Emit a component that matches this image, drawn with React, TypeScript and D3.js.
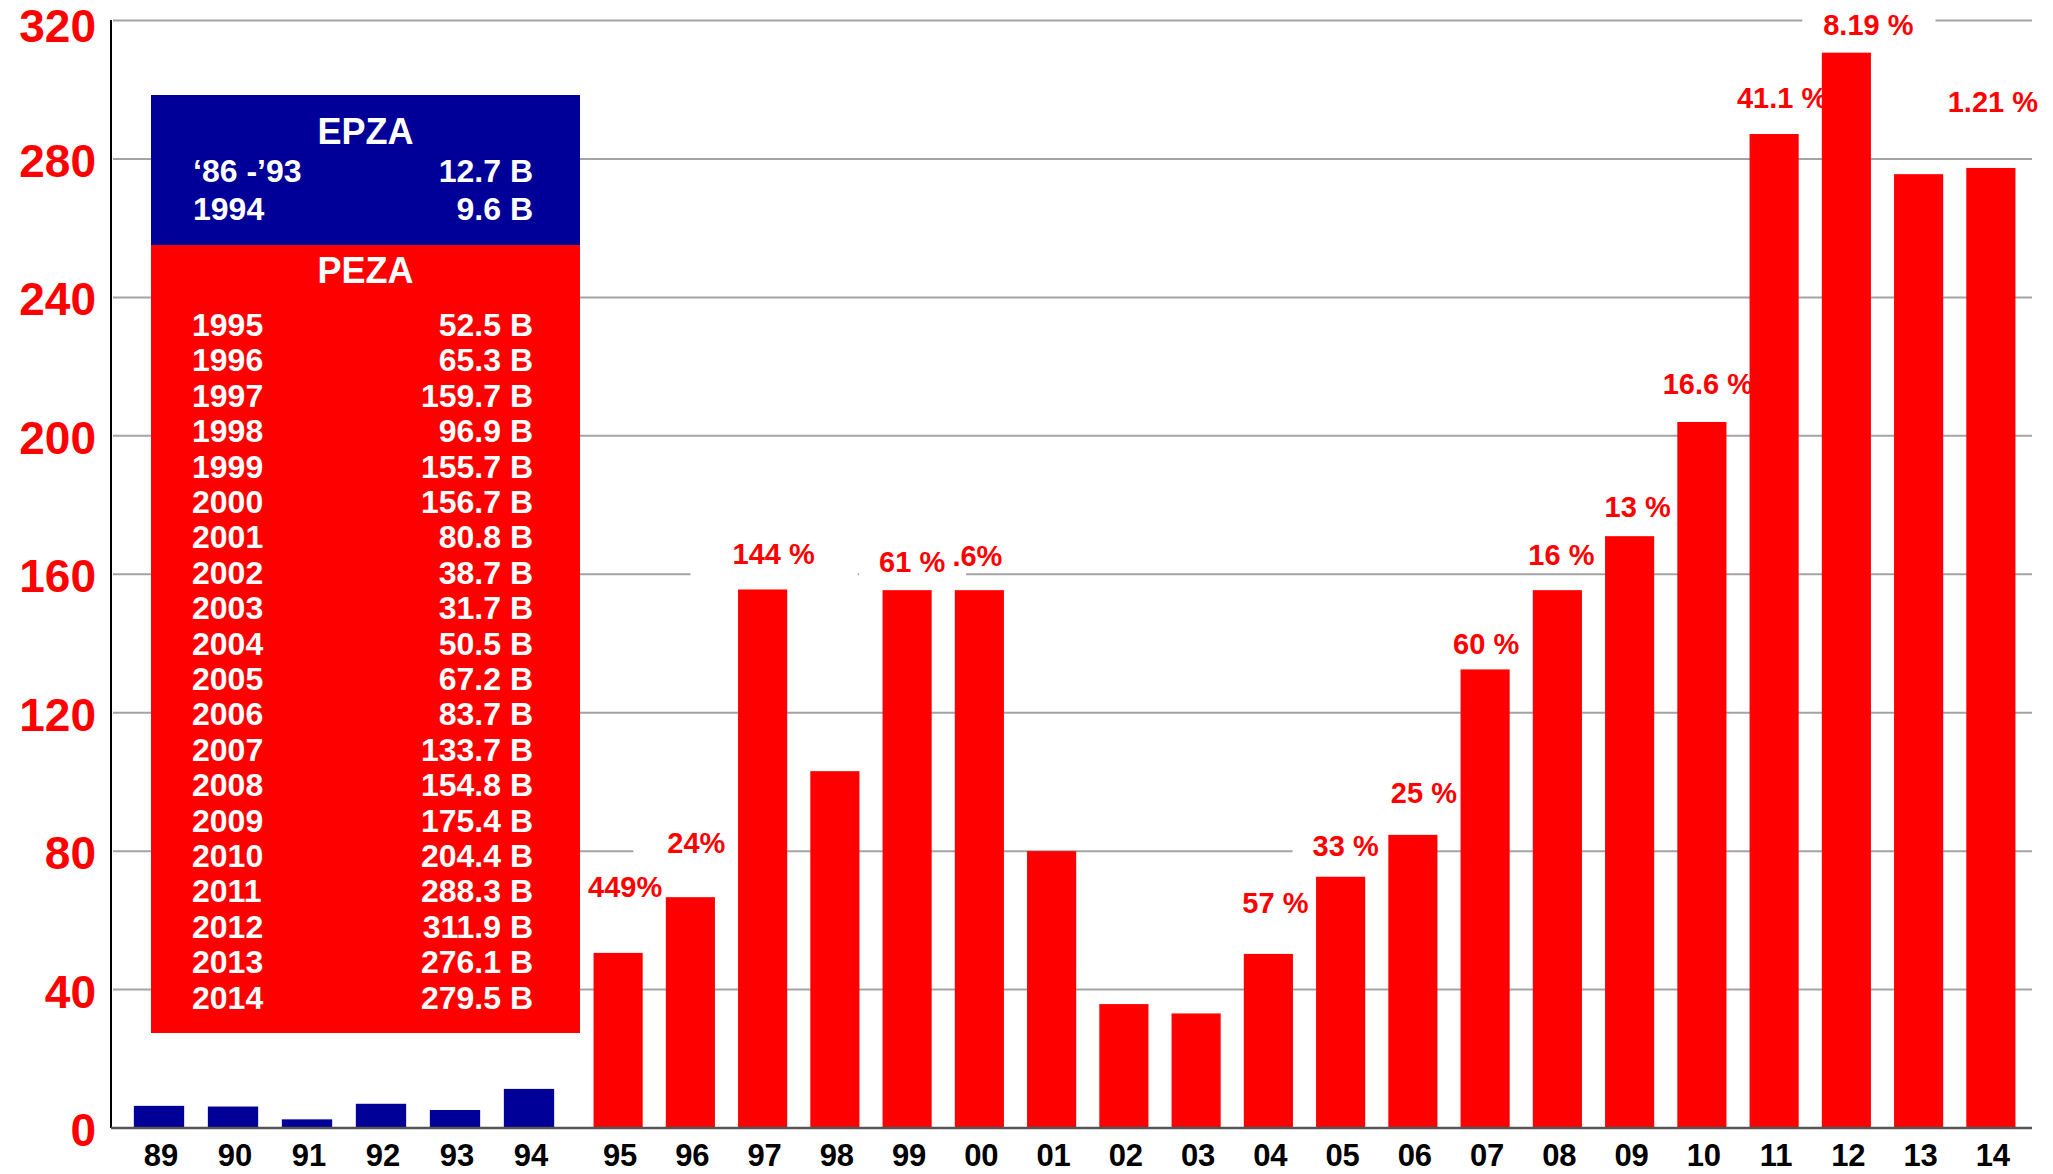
import * as d3 from "d3";

// EPZA / PEZA exports (billion pesos)
const epzaYears = ["89", "90", "91", "92", "93", "94"];
const epzaValues = [6.4, 6.2, 2.5, 7.0, 5.2, 11.3];
const pezaYears = ["95", "96", "97", "98", "99", "00", "01", "02", "03", "04", "05", "06", "07", "08", "09", "10", "11", "12", "13", "14"];
const pezaValues = [50.6, 66.7, 155.6, 103.1, 155.4, 155.4, 80.0, 35.8, 33.1, 50.3, 72.6, 84.7, 132.5, 155.4, 171.0, 204.0, 287.2, 310.7, 275.6, 277.4];
const yTicks = [0, 40, 80, 120, 160, 200, 240, 280, 320];

// growth labels above the PEZA bars
const growthYears = ["95", "96", "97", "99", "00", "04", "05", "06", "07", "08", "09", "10", "11", "12", "14"];
const growthLabels = ["449%", "24%", "144 %", "61 %", ".6%", "57 %", "33 %", "25 %", "60 %", "16 %", "13 %", "16.6 %", "41.1 %", "8.19 %", "1.21 %"];

// legend table
const epzaRowLabels = ["\u201886 -\u201993", "1994"];
const epzaRowValues = ["12.7 B", "9.6 B"];
const pezaRowLabels = ["1995", "1996", "1997", "1998", "1999", "2000", "2001", "2002", "2003", "2004", "2005", "2006", "2007", "2008", "2009", "2010", "2011", "2012", "2013", "2014"];
const pezaRowValues = ["52.5 B", "65.3 B", "159.7 B", "96.9 B", "155.7 B", "156.7 B", "80.8 B", "38.7 B", "31.7 B", "50.5 B", "67.2 B", "83.7 B", "133.7 B", "154.8 B", "175.4 B", "204.4 B", "288.3 B", "311.9 B", "276.1 B", "279.5 B"];

// label placement (baseline in data units, x shift, white box padding)
const LABEL_LAYOUT = [
  { at: 66.8, dx: 7, padL: 20, padR: 20, padB: 6 },
  { at: 79.4, dx: 6, padL: 34, padR: 20, padB: 6 },
  { at: 162.9, dx: 11, padL: 42, padR: 43, padB: 12 },
  { at: 160.7, dx: 5, padL: 20, padR: 21, padB: 6 },
  { at: 162.4, dx: -2, padL: 0, padR: 0, padB: 4 },
  { at: 62.0, dx: 7, padL: 20, padR: 20, padB: 6 },
  { at: 78.6, dx: 5, padL: 20, padR: 20, padB: 6 },
  { at: 93.8, dx: 11, padL: 20, padR: 20, padB: 6 },
  { at: 137.0, dx: 1, padL: 20, padR: 20, padB: 6 },
  { at: 162.7, dx: 4, padL: 20, padR: 20, padB: 6 },
  { at: 176.6, dx: 8, padL: 20, padR: 20, padB: 6 },
  { at: 212.1, dx: 6, padL: 20, padR: 20, padB: 6 },
  { at: 294.7, dx: 8, padL: 20, padR: 20, padB: 6 },
  { at: 315.8, dx: 22, padL: 21, padR: 22, padB: 6 },
  { at: 293.6, dx: 2, padL: 20, padR: 20, padB: 6 },
];

const W = 2053;
const H = 1174;
const FONT = "'Liberation Sans', Arial, Helvetica, sans-serif";
const RED = "#ff0000";
const BLUE = "#000099";
const AXIS_X = 111;
const RIGHT = 2032;
const LABEL_SIZE = 29;

// rough Arial Bold advance widths
const charW = (c: string) => (c === "." || c === " " ? 0.278 : c === "%" ? 0.889 : 0.556);
const textWidth = (s: string, size: number) => s.split("").reduce((a, c) => a + charW(c), 0) * size;

export default function App() {
  const yScale = d3.scaleLinear().domain([0, 320]).range([1128, 20.5]);

  const epzaX = d3.scaleBand().domain(epzaYears).range([122, 566]).paddingInner(0.32).paddingOuter(0.16);
  const pezaX = d3.scaleBand().domain(pezaYears).range([582, 2027]).paddingInner(0.32).paddingOuter(0.16);

  const epzaCenter = (y: string) => (epzaX(y) ?? 0) + epzaX.bandwidth() / 2;
  const pezaCenter = (y: string) => (pezaX(y) ?? 0) + pezaX.bandwidth() / 2;

  const grid = yTicks.slice(1).map((t) => (
    <line key={t} x1={AXIS_X + 2} x2={RIGHT} y1={yScale(t)} y2={yScale(t)} stroke="#a3a3a3" strokeWidth={2} />
  ));

  const yLabels = yTicks.map((t) => (
    <text key={t} x={96} y={Math.max(yScale(t) + 18, 42)} textAnchor="end" fontSize={46} fontWeight="bold" fill={RED}>
      {t}
    </text>
  ));

  const labels = growthLabels.map((txt, i) => {
    const lay = LABEL_LAYOUT[i];
    const cx = pezaCenter(growthYears[i]) + lay.dx;
    const by = yScale(lay.at);
    const w = textWidth(txt, LABEL_SIZE);
    return (
      <g key={i}>
        <rect x={cx - w / 2 - lay.padL} y={by - 27} width={w + lay.padL + lay.padR} height={27 + lay.padB} fill="#ffffff" />
        <text x={cx} y={by} textAnchor="middle" fontSize={LABEL_SIZE} fontWeight="bold" fill={RED}>
          {txt}
        </text>
      </g>
    );
  });

  const epzaBars = epzaValues.map((v, i) => (
    <rect key={i} x={epzaX(epzaYears[i])} y={yScale(v)} width={epzaX.bandwidth()} height={yScale(0) - yScale(v)} fill={BLUE} />
  ));
  const pezaBars = pezaValues.map((v, i) => (
    <rect key={i} x={pezaX(pezaYears[i])} y={yScale(v)} width={pezaX.bandwidth()} height={yScale(0) - yScale(v)} fill={RED} />
  ));

  const xLabels = [
    ...epzaYears.map((y) => ({ y, x: epzaCenter(y) })),
    ...pezaYears.map((y) => ({ y, x: pezaCenter(y) })),
  ].map((d) => (
    <text key={d.y} x={d.x + 2} y={1166} textAnchor="middle" fontSize={31} fontWeight="bold" fill="#000000">
      {d.y}
    </text>
  ));

  // legend table
  const LX = 151;
  const LW = 429;
  const rowLeft = 192;
  const rowRight = 533;
  const legend = (
    <g fill="#ffffff" fontWeight="bold">
      <rect x={LX} y={95} width={LW} height={150} fill={BLUE} />
      <rect x={LX} y={245} width={LW} height={788} fill={RED} />
      <text x={LX + LW / 2} y={144} textAnchor="middle" fontSize={36}>EPZA</text>
      {epzaRowLabels.map((l, i) => (
        <g key={l} fontSize={32}>
          <text x={rowLeft + 1} y={182 + i * 38}>{l}</text>
          <text x={rowRight} y={182 + i * 38} textAnchor="end">{epzaRowValues[i]}</text>
        </g>
      ))}
      <text x={LX + LW / 2} y={283} textAnchor="middle" fontSize={36}>PEZA</text>
      {pezaRowLabels.map((l, i) => (
        <g key={l} fontSize={32}>
          <text x={rowLeft} y={336 + i * 35.4}>{l}</text>
          <text x={rowRight} y={336 + i * 35.4} textAnchor="end">{pezaRowValues[i]}</text>
        </g>
      ))}
    </g>
  );

  return (
    <svg width={W} height={H} style={{ position: "absolute", left: 0, top: 0, background: "#ffffff" }} fontFamily={FONT}>
      <rect x={0} y={0} width={W} height={H} fill="#ffffff" />
      {grid}
      {labels}
      {legend}
      {epzaBars}
      {pezaBars}
      <line x1={AXIS_X} x2={AXIS_X} y1={20} y2={yScale(0)} stroke="#000000" strokeWidth={2} />
      <line x1={AXIS_X} x2={RIGHT} y1={yScale(0)} y2={yScale(0)} stroke="#555555" strokeWidth={2.5} />
      {yLabels}
      {xLabels}
    </svg>
  );
}
